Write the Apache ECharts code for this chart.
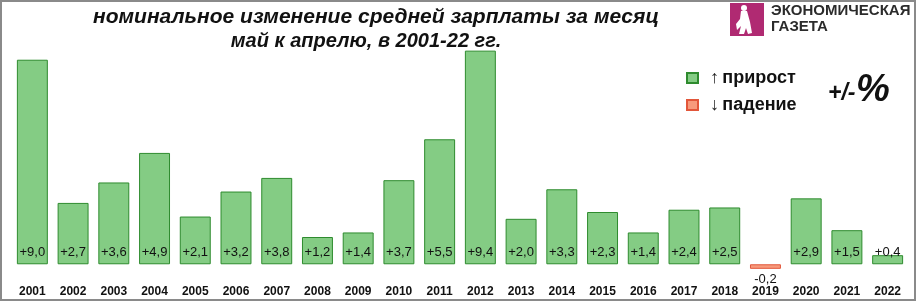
<!DOCTYPE html>
<html>
<head>
<meta charset="utf-8">
<script src="https://cdn.jsdelivr.net/npm/echarts@6/dist/echarts.min.js"></script>
<style>
  html, body { margin: 0; padding: 0; background: #fff; }
  #main { width: 919px; height: 303px; }
</style>
</head>
<body>
<div id="main"></div>
<script>
// годы и изменения зарплаты, % (май к апрелю)
var years = ["2001", "2002", "2003", "2004", "2005", "2006", "2007", "2008", "2009", "2010", "2011",
             "2012", "2013", "2014", "2015", "2016", "2017", "2018", "2019", "2020", "2021", "2022"];
var changes = [9.0, 2.7, 3.6, 4.9, 2.1, 3.2, 3.8, 1.2, 1.4, 3.7, 5.5,
               9.4, 2.0, 3.3, 2.3, 1.4, 2.4, 2.5, -0.2, 2.9, 1.5, 0.4];
var titleLines = ["номинальное изменение средней зарплаты за месяц", "май к апрелю, в 2001-22 гг."];

var FONT = 'Arial, "Liberation Sans", sans-serif';

// раскладываем по двум сериям: прирост / падение
var upData = changes.map(function (v) { return v >= 0 ? v : null; });
var downData = changes.map(function (v) { return v < 0 ? v : null; });

function fmt(v) {
    var s = Math.abs(v).toFixed(1).replace(".", ",");
    return (v >= 0 ? "+" : "-") + s;
}

var chart = echarts.init(document.getElementById("main"), null, { renderer: "canvas" });

chart.setOption({
    backgroundColor: "#ffffff",
    animation: false,
    textStyle: { fontFamily: FONT },
    grid: { left: 12, right: 11, top: 37, bottom: 16, containLabel: false },
    legend: {
        orient: "vertical",
        left: 681, top: 64,
        itemWidth: 11, itemHeight: 10, itemGap: 9,
        data: [{ name: "прирост", icon: "rect" }, { name: "падение", icon: "rect" }],
        formatter: function (name) {
            return (name === "прирост" ? "{a|↑} " : "{a|↓} ") + "{b|" + name + "}";
        },
        textStyle: {
            padding: [0, 0, 0, 7],
            rich: {
                a: { fontSize: 18, fontFamily: FONT, color: "#222", fontWeight: "normal" },
                b: { fontSize: 18, fontFamily: FONT, color: "#111", fontWeight: "bold" }
            }
        }
    },
    xAxis: {
        type: "category",
        data: years,
        axisLine: { show: false, onZero: false },
        axisTick: { show: false },
        axisLabel: { color: "#111", fontSize: 12, fontWeight: "bold", fontFamily: FONT, margin: -1, interval: 0 }
    },
    yAxis: {
        type: "value", min: -1, max: 10,
        show: false,
        splitLine: { show: false }
    },
    series: [
        {
            name: "прирост", type: "bar", data: upData,
            barWidth: "76%", barGap: "-100%",
            itemStyle: { color: "#84cc84", borderColor: "#2e8b2e", borderWidth: 1 },
            label: {
                show: true, position: "insideBottom", distance: 5,
                color: "#111", fontSize: 13, fontFamily: FONT,
                formatter: function (p) { return fmt(p.value); }
            }
        },
        {
            name: "падение", type: "bar", data: downData,
            barWidth: "76%",
            itemStyle: { color: "#f79a7c", borderColor: "#e2563a", borderWidth: 1 },
            label: {
                show: true, position: "bottom", distance: 4,
                color: "#111", fontSize: 13, fontFamily: FONT,
                formatter: function (p) { return fmt(p.value); }
            }
        }
    ],
    graphic: [
        // рамка
        { type: "rect", shape: { x: 1, y: 1, width: 914, height: 299 }, silent: true,
          style: { fill: null, stroke: "#8a8a8a", lineWidth: 2 } },
        // заголовок
        { type: "text", silent: true, x: 376, y: 7,
          style: { text: titleLines[0], font: "italic bold 21px " + FONT, fill: "#111", textAlign: "center" } },
        { type: "text", silent: true, x: 366, y: 31,
          style: { text: titleLines[1], font: "italic bold 20px " + FONT, fill: "#111", textAlign: "center" } },
        // логотип
        { type: "rect", shape: { x: 730, y: 3, width: 34, height: 33 }, silent: true, style: { fill: "#b02a72" } },
        { type: "circle", shape: { cx: 744, cy: 8, r: 3 }, silent: true, style: { fill: "#fff" } },
        { type: "polygon", silent: true,
          shape: { points: [[741, 11], [747, 11], [750, 22], [752, 33], [748, 34], [746, 28], [744, 34], [739, 34], [741, 26], [737, 30], [736, 24], [740, 19]] },
          style: { fill: "#fff" } },
        { type: "text", silent: true, x: 771, y: 3,
          style: { text: "ЭКОНОМИЧЕСКАЯ", font: "bold 15px " + FONT, fill: "#2b2b2b" } },
        { type: "text", silent: true, x: 771, y: 19,
          style: { text: "ГАЗЕТА", font: "bold 15px " + FONT, fill: "#2b2b2b" } },
        // единицы
        { type: "text", silent: true, x: 828, y: 82,
          style: { text: "+/-", font: "italic bold 23px " + FONT, fill: "#111" } },
        { type: "text", silent: true, x: 856, y: 72,
          style: { text: "%", font: "italic bold 38px " + FONT, fill: "#111" } }
    ]
});
</script>
</body>
</html>
